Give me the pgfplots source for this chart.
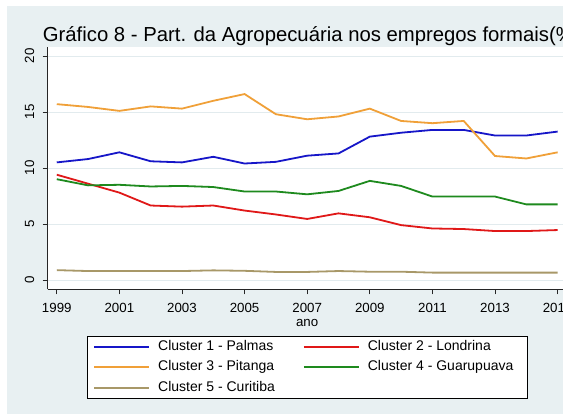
\documentclass[border=0pt]{standalone}
\usepackage{pgfplots}
\pgfplotsset{compat=1.18}
\usepackage{fontspec}
\setmainfont{Liberation Sans}

\definecolor{bgcol}{HTML}{E8F0F2}
\definecolor{gridcol}{HTML}{E2EBEE}
\definecolor{c1}{HTML}{1616C8}
\definecolor{c2}{HTML}{E01818}
\definecolor{c3}{HTML}{F0A038}
\definecolor{c4}{HTML}{1E8A1E}
\definecolor{c5}{HTML}{A89868}

\begin{document}
\begin{tikzpicture}[x=1pt,y=1pt]
\useasboundingbox (0,0) rectangle (563,414);
\clip (0,0) rectangle (563,414);
\fill[white] (0,0) rectangle (563,414);
\fill[bgcol] (7,0) rectangle (563,408);
\node[anchor=base west, inner sep=0pt, font=\fontsize{20.3}{21}\selectfont]
  at (42.7,372.5) {Gráfico 8 - Part. da Agropecuária nos empregos formais(\%)};

\begin{axis}[
    scale only axis,
    width=519pt, height=242.6pt,
    at={(47.7pt,124.7pt)}, anchor=south west,
    xmin=1998.71, xmax=2015.29,
    ymin=-0.83, ymax=20.83,
    axis x line*=bottom, axis y line*=left,
    axis line style={draw=black!85, line width=0.9pt, -},
    axis background/.style={fill=white},
    xtick={1999,2001,...,2015},
    ytick={0,5,10,15,20},
    tick align=outside,
    major tick length=5pt,
    tick style={draw=black!85, line width=0.9pt},
    ymajorgrids,
    major grid style={draw=gridcol, line width=0.9pt},
    /pgf/number format/assume math mode=true,
    xticklabel style={/pgf/number format/1000 sep={}, font=\fontsize{13.3}{13}\selectfont, yshift=-5pt},
    yticklabel style={rotate=90, anchor=south, font=\fontsize{13.3}{13}\selectfont, yshift=5pt},
    xlabel={ano},
    xlabel style={font=\fontsize{13.3}{13}\selectfont, yshift=0pt},
    legend columns=2,
    legend cell align=left,
    legend style={
        at={(axis description cs:0.0757,-0.1925)}, anchor=north west,
        draw=black, fill=white,
        font=\fontsize{14}{14}\selectfont,
        inner xsep=6pt, inner ysep=2pt,
        row sep=3.5pt,
        nodes={inner sep=2pt, text height=10pt, text depth=3pt},
        /tikz/every odd column/.append style={column sep=6pt},
        /tikz/every even column/.append style={column sep=26pt},
    },
    legend image code/.code={\draw[#1] (0pt,0pt) -- (55pt,0pt);},
]
\addlegendimage{draw=c1, line width=2pt}
\addlegendentry{Cluster 1 - Palmas}
\addlegendimage{draw=c2, line width=2pt}
\addlegendentry{Cluster 2 - Londrina}
\addlegendimage{draw=c3, line width=2pt}
\addlegendentry{Cluster 3 - Pitanga}
\addlegendimage{draw=c4, line width=2pt}
\addlegendentry{Cluster 4 - Guarupuava\hspace*{6pt}}
\addlegendimage{draw=c5, line width=2pt}
\addlegendentry{Cluster 5 - Curitiba}

\addplot[c1, line width=1.8pt, forget plot] coordinates {
 (1999,10.5) (2000,10.8) (2001,11.4) (2002,10.6) (2003,10.5) (2004,11.0)
 (2005,10.4) (2006,10.55) (2007,11.1) (2008,11.3) (2009,12.8) (2010,13.15)
 (2011,13.4) (2012,13.4) (2013,12.9) (2014,12.9) (2015,13.25)};
\addplot[c2, line width=1.8pt, forget plot] coordinates {
 (1999,9.4) (2000,8.6) (2001,7.8) (2002,6.65) (2003,6.55) (2004,6.65)
 (2005,6.2) (2006,5.85) (2007,5.45) (2008,5.95) (2009,5.6) (2010,4.9)
 (2011,4.6) (2012,4.55) (2013,4.37) (2014,4.37) (2015,4.46)};
\addplot[c3, line width=1.8pt, forget plot] coordinates {
 (1999,15.7) (2000,15.45) (2001,15.1) (2002,15.5) (2003,15.3) (2004,16.0)
 (2005,16.6) (2006,14.8) (2007,14.35) (2008,14.6) (2009,15.3) (2010,14.2)
 (2011,14.0) (2012,14.2) (2013,11.07) (2014,10.85) (2015,11.4)};
\addplot[c4, line width=1.8pt, forget plot] coordinates {
 (1999,9.0) (2000,8.45) (2001,8.5) (2002,8.35) (2003,8.4) (2004,8.3)
 (2005,7.9) (2006,7.9) (2007,7.65) (2008,7.95) (2009,8.85) (2010,8.4)
 (2011,7.45) (2012,7.45) (2013,7.45) (2014,6.75) (2015,6.75)};
\addplot[c5, line width=1.8pt, forget plot] coordinates {
 (1999,0.88) (2000,0.8) (2001,0.8) (2002,0.8) (2003,0.8) (2004,0.86)
 (2005,0.82) (2006,0.72) (2007,0.72) (2008,0.8) (2009,0.74) (2010,0.74)
 (2011,0.66) (2012,0.66) (2013,0.66) (2014,0.66) (2015,0.66)};
\end{axis}
\end{tikzpicture}
\end{document}
